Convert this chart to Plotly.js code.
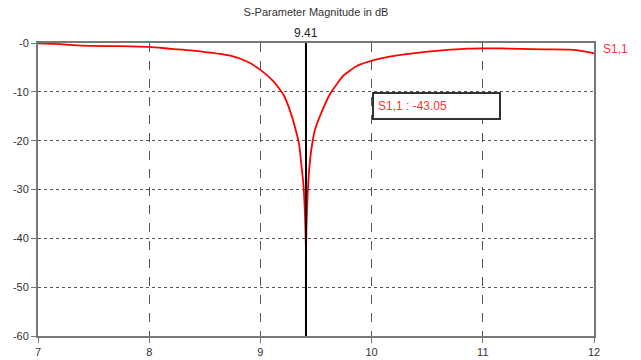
<!DOCTYPE html>
<html>
<head>
<meta charset="utf-8">
<script src="https://cdn.plot.ly/plotly-3.0.1.min.js"></script>
<style>html,body{margin:0;padding:0;background:#fff;}#chart{width:641px;height:360px;}</style>
</head>
<body>
<div id="chart"></div>
<script>
const freqGHz = [7.0, 7.2, 7.4, 7.7, 8.0, 8.2, 8.37, 8.52, 8.73, 8.88, 9.0, 9.12, 9.21, 9.27, 9.33, 9.35, 9.37, 9.385, 9.395, 9.405, 9.41, 9.415, 9.425, 9.44, 9.46, 9.49, 9.54, 9.63, 9.75, 9.87, 9.99, 10.14, 10.26, 10.41, 10.56, 10.71, 10.86, 11.0, 11.16, 11.33, 11.55, 11.78, 11.9, 12.0];
const s11dB   = [-0.05, -0.25, -0.55, -0.65, -0.8, -1.2, -1.5, -1.9, -2.6, -3.8, -5.5, -7.9, -10.7, -14.1, -18.9, -21.0, -25.3, -28.5, -32.0, -38.0, -43.05, -37.0, -31.0, -25.5, -21.5, -17.8, -14.7, -10.3, -6.6, -4.65, -3.7, -2.9, -2.45, -2.0, -1.65, -1.37, -1.16, -1.1, -1.1, -1.2, -1.3, -1.35, -1.65, -2.1];
const traceName = "S1,1";
const markerFreq = 9.41;
const markerValue = -43.05;
const xTicks = [7, 8, 9, 10, 11, 12];
const yTicks = [0, -10, -20, -30, -40, -50, -60];
const yTickText = ["-0", "-10", "-20", "-30", "-40", "-50", "-60"];
const yRange = [-60, 0];

const font = "Liberation Sans, Arial, sans-serif";

const traces = [
  {
    x: freqGHz, y: s11dB, type: "scatter", mode: "lines",
    line: {color: "#ff0000", width: 1.8, shape: "spline", smoothing: 0.5}, hoverinfo: "skip"
  },
  {
    x: [markerFreq, markerFreq], y: yRange, type: "scatter", mode: "lines",
    line: {color: "#000000", width: 2}, hoverinfo: "skip"
  }
];

const layout = {
  width: 641, height: 360,
  margin: {l: 38, r: 47, t: 43, b: 24},
  paper_bgcolor: "#ffffff", plot_bgcolor: "#ffffff",
  showlegend: false,
  font: {family: font, size: 11, color: "#333333"},
  title: {text: "S-Parameter Magnitude in dB", font: {family: font, size: 11, color: "#333333"},
          x: 0.493, xanchor: "center", y: 0.967, yanchor: "middle", yref: "container"},
  xaxis: {
    range: [7, 12], tickvals: xTicks, ticktext: xTicks.map(String),
    showline: true, mirror: true, linecolor: "#777777", linewidth: 2,
    ticks: "outside", ticklen: 5, tickcolor: "#777777",
    showgrid: true, gridcolor: "#555555", gridwidth: 1, griddash: "dash",
    zeroline: false, tickfont: {family: font, size: 11, color: "#333333"}
  },
  yaxis: {
    range: yRange, tickvals: yTicks, ticktext: yTickText,
    showline: true, mirror: true, linecolor: "#777777", linewidth: 2,
    ticks: "outside", ticklen: 5, tickcolor: "#777777",
    showgrid: true, gridcolor: "#555555", gridwidth: 1, griddash: "dot",
    zeroline: false, tickfont: {family: font, size: 11, color: "#333333"}
  },
  annotations: [
    {x: markerFreq, y: 1, xref: "x", yref: "paper", yanchor: "bottom", xanchor: "center",
     text: String(markerFreq), showarrow: false, yshift: 1,
     font: {family: font, size: 12, color: "#222222"}},
    {x: 10, y: -10, xref: "x", yref: "y", xanchor: "left", yanchor: "top",
     text: traceName + " : " + markerValue.toFixed(2), showarrow: false,
     align: "left", width: 117, height: 16, borderpad: 4,
     bordercolor: "#333333", borderwidth: 2, bgcolor: "#ffffff",
     font: {family: font, size: 12, color: "#ff3333"}},
    {x: 1, y: s11dB[s11dB.length - 1], xref: "paper", yref: "y", xanchor: "left", yanchor: "middle",
     text: traceName, showarrow: false, xshift: 7, yshift: 4,
     font: {family: font, size: 12, color: "#ff3333"}}
  ]
};

Plotly.newPlot("chart", traces, layout, {staticPlot: true, displayModeBar: false});
</script>
</body>
</html>
